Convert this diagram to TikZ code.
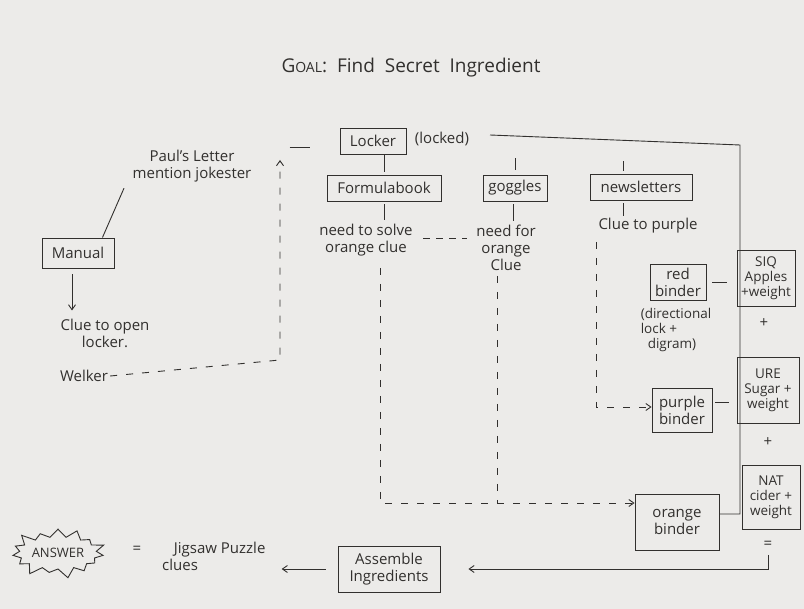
\documentclass[tikz,border=0pt]{standalone}
\usepackage{fontspec}
\setmainfont{Open Sans}
\usetikzlibrary{arrows.meta,shapes.symbols}
\definecolor{paper}{RGB}{236,235,233}
\definecolor{ink}{RGB}{50,48,46}
\begin{document}
\begin{tikzpicture}[x=1pt,y=-1pt,
  every node/.style={text=ink,font=\fontsize{15}{17}\selectfont,inner sep=2pt},
  box/.style={draw=ink,line width=0.9pt,minimum height=26pt,align=center,inner sep=3pt},
  small/.style={font=\fontsize{13.5}{15}\selectfont},
  lbl/.style={align=center},
  ink line/.style={draw=ink,line width=0.9pt},
  dash line/.style={ink line,dash pattern=on 7pt off 9pt},
  arr/.style={-{Straight Barb[length=5pt,width=7pt]}}
]
\fill[paper] (0,0) rectangle (804,609);
\useasboundingbox (0,0) rectangle (804,609);

% title
\node (title) at (411,68) {\fontsize{19}{21}\selectfont G{\fontsize{14}{16}\selectfont OAL}:\ \ Find\ \ Secret\ \ Ingredient};

% top row
\node[box,minimum width=66pt] (locker) at (373,141) {Locker};
\node (locked) at (442,139) {(locked)};
\node[box,minimum width=114pt] (formula) at (384,188) {Formulabook};
\node[box,minimum width=64pt] (goggles) at (515,188) {goggles};
\node[box,minimum width=102pt] (news) at (641,187) {newsletters};

\node[lbl] (needsolve) at (366,240) {need to solve\\orange clue};
\node[lbl] (needfor) at (506,248) {need for\\orange\\Clue};
\node (cluepurple) at (648,226) {Clue to purple};

% left side
\node (paul) at (192,166) [lbl] {Paul's Letter\\mention jokester};
\node[box,minimum width=72pt,minimum height=30pt] (manual) at (78,253) {Manual};
\node[lbl] (clueopen) at (105,333) {Clue to open\\locker.};
\node (welker) at (84,376) {Welker};

% binders
\node[box,minimum width=56pt,minimum height=36pt,inner sep=1pt] (red) at (678,282) {red\\binder};
\node[align=left,small] (direc) at (676,330) {(directional\\lock +\\\ \ digram)};
\node[box,minimum width=60pt,minimum height=44pt,inner sep=1pt] (purple) at (682,410) {purple\\binder};
\node[box,minimum width=84pt,minimum height=56pt] (orange) at (677,522) {orange\\binder};

% ingredients column
\node[box,minimum width=58pt,minimum height=56pt,inner sep=1pt,small] (siq) at (766,278) {SIQ\\Apples\\+weight};
\node (plus1) at (764,323) {+};
\node[box,minimum width=62pt,minimum height=66pt,inner sep=1pt,small] (ure) at (768,390) {URE\\Sugar +\\weight};
\node (plus2) at (768,442) {+};
\node[box,minimum width=58pt,minimum height=64pt,inner sep=1pt,small] (nat) at (771,497) {NAT\\cider +\\weight};
\node (equals) at (768,545) {=};

% bottom row
\node[box,minimum width=102pt,minimum height=46pt] (assemble) at (389,569) {Assemble\\Ingredients};
\node[align=left,anchor=west] (jigsaw) at (160,556) {\ \ \ Jigsaw Puzzle\\clues};
\node (eqans) at (137,550) {=};
\node[starburst,draw=ink,line width=0.9pt,starburst points=15,starburst point height=11pt,minimum width=92pt,minimum height=54pt,inner sep=1pt,font=\fontsize{13}{15}\selectfont] (answer) at (58,553) {ANSWER};

% connectors: left
\draw[ink line] ([xshift=-12pt]manual.north east) -- ([xshift=-68pt,yshift=-4pt]paul.south);
\draw[ink line,arr] ([xshift=-6pt,yshift=-6pt]manual.south) -- ([xshift=-33pt,yshift=6pt]clueopen.north);
\coordinate (wcorner) at (280,360);
\coordinate (wtop) at (280,160);
\draw[dash line,arr] (welker.east) -- (wcorner) -- (wtop);
\draw[ink line] ([xshift=-50pt,yshift=-6pt]locker.west) -- ([xshift=-30pt,yshift=-6pt]locker.west);

% locker main line to orange binder
\coordinate (lstart) at (490,135);
\coordinate (lcorner) at (740,145);
\draw[ink line] (lstart) -- (lcorner) |- ([yshift=8pt]orange.east);

% ticks
\draw[ink line,shorten >=3pt] (locker.south -| formula.north) -- (formula.north);
\draw[ink line] ([yshift=5pt]goggles.north) -- ++(0,-12);
\draw[ink line] ([xshift=-18pt,yshift=3pt]news.north) -- ++(0,-10);
\draw[ink line,shorten <=3pt,shorten >=2pt] (formula.south) -- (formula.south |- needsolve.north);
\draw[ink line,shorten <=3pt,shorten >=2pt] ([xshift=-2pt]goggles.south) -- ([xshift=-2pt]goggles.south |- needfor.north);
\draw[ink line,shorten <=3pt] ([xshift=-18pt]news.south) -- ([xshift=-18pt]news.south |- cluepurple.north);
\coordinate (d1) at (423,238);
\coordinate (d2) at (467,238);
\draw[dash line,dash pattern=on 7pt off 6pt] (d1) -- (d2);

% dashed routes to binders
\coordinate (fstart) at (380,268);
\coordinate (fcorner) at (380,503);
\draw[dash line,arr] (fstart) -- (fcorner) -- (fcorner -| orange.west);
\coordinate (gstart) at (497,276);
\draw[dash line] (gstart) -- (gstart |- fcorner);
\coordinate (pstart) at (596,242);
\draw[dash line,arr] (pstart) |- ([yshift=3pt]purple.west);

% binders to ingredients
\draw[ink line,shorten <=6pt,shorten >=10pt] (red.east) -- (red.east -| siq.west);
\draw[ink line,shorten <=3pt,shorten >=8pt] ([yshift=8pt]purple.east) -- ([yshift=8pt]purple.east -| ure.west);

% result line
\draw[ink line,arr,shorten >=28pt] ([yshift=-4pt]equals.south) |- (assemble.east);
\draw[ink line,arr,shorten <=12pt,shorten >=14pt] (assemble.west) -- (assemble.west -| jigsaw.east);
\end{tikzpicture}
\end{document}
